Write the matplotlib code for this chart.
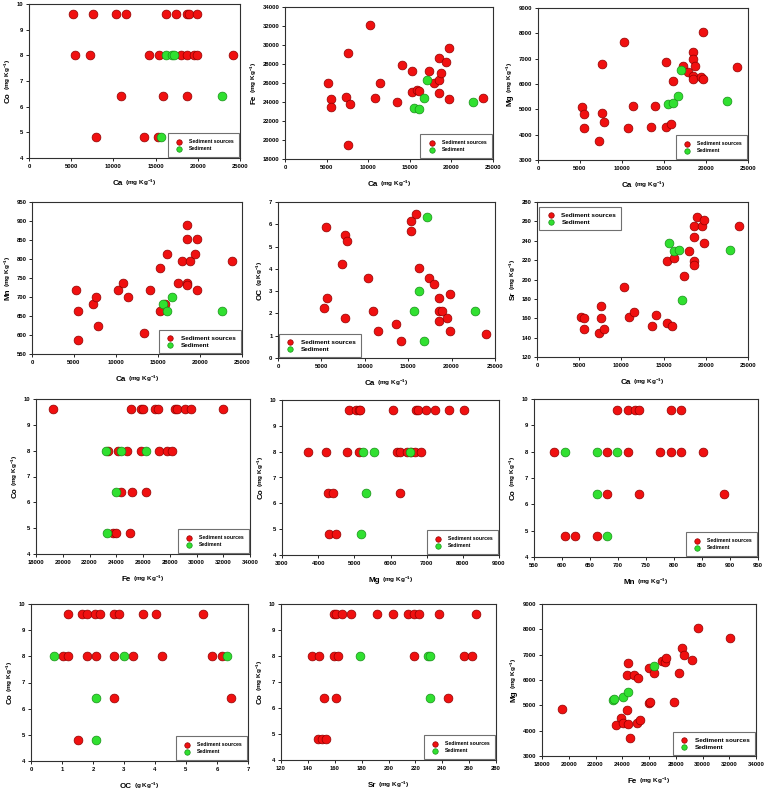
import matplotlib
matplotlib.use("Agg")
import matplotlib.pyplot as plt
from matplotlib.transforms import IdentityTransform

plt.rcParams["font.family"] = ["Liberation Sans", "DejaVu Sans"]
plt.rcParams["font.weight"] = "bold"
plt.rcParams["mathtext.fontset"] = "custom"
plt.rcParams["mathtext.rm"] = "Liberation Sans:bold"
plt.rcParams["mathtext.bf"] = "Liberation Sans:bold"
plt.rcParams["mathtext.default"] = "regular"

# ---------------- data ----------------
# Panel 1: Co vs Ca
coca_src_ca = [5180, 7610, 10280, 11460, 16290, 17470, 18720, 19000, 19860,
               5500, 7260, 14170, 15390, 18050, 18720, 19580, 19940, 24140,
               10870, 15930, 18680,
               7930, 13580, 15310]
coca_src_co = [9.6, 9.6, 9.6, 9.6, 9.6, 9.6, 9.6, 9.6, 9.6,
               8.0, 8.0, 8.0, 8.0, 8.0, 8.0, 8.0, 8.0, 8.0,
               6.4, 6.4, 6.4,
               4.8, 4.8, 4.8]
coca_sed_ca = [16290, 16920, 17150, 22920, 15660]
coca_sed_co = [8.0, 8.0, 8.0, 6.4, 4.8]

# Panel 2: Fe vs Ca
feca_src_ca = [5200, 5510, 5510, 7280, 7600, 7600, 7870, 10240, 10830, 11420, 13470,
               14060, 15240, 15240, 15830, 16140, 17280, 17870, 18500, 18500, 18500,
               18780, 19370, 19680, 19680, 23740]
feca_src_fe = [25950, 24320, 23450, 24490, 29210, 19430, 23830, 32080, 24420, 26030, 24010,
               27880, 27290, 25060, 25300, 25200, 27220, 25970, 28580, 26350, 24920,
               27010, 28260, 29670, 24320, 24430]
feca_sed_ca = [15550, 16140, 16730, 17010, 22600]
feca_sed_fe = [23340, 23270, 24430, 26350, 24040]

# Panel 3: Mg vs Ca
mgca_src_ca = [5190, 5500, 5500, 7230, 7580, 7580, 7860, 10210, 10760, 11350, 13400,
               13950, 15210, 15210, 15830, 16110, 17250, 17880, 18420, 18420, 18420,
               18420, 18740, 19370, 19600, 19680, 23730]
mgca_src_mg = [5080, 4820, 4250, 3740, 6770, 4860, 4500, 7650, 4280, 5150, 4320,
               5150, 6850, 4320, 4440, 6100, 6700, 6490, 7250, 6980, 6300,
               6190, 6730, 6270, 8050, 6190, 6670]
mgca_sed_ca = [15520, 16110, 16700, 16970, 22550]
mgca_sed_mg = [5220, 5250, 5540, 6560, 5330]

# Panel 4: Mn vs Ca
mnca_src_ca = [5220, 5500, 5500, 7260, 7570, 7850, 10210, 10790, 11380, 13390, 14050,
               15200, 15200, 15820, 16130, 17350, 17900, 18490, 18490, 18490, 18490,
               18830, 19350, 19670, 19670, 23860]
mnca_src_mn = [719, 662, 587, 681, 699, 625, 719, 738, 699, 606, 719,
               776, 662, 681, 814, 738, 795, 890, 852, 738, 731,
               795, 814, 852, 719, 795]
mnca_sed_ca = [15540, 16130, 16680, 22610]
mnca_sed_mn = [681, 662, 700, 662]

# Panel 5: OC vs Ca
occa_src_ca = [5330, 5560, 5640, 7360, 7670, 7670, 7980, 10350, 10930, 11500, 13570,
               14150, 15340, 15340, 15950, 16220, 17410, 18020, 18600, 18600, 18870,
               18600, 19520, 19820, 19820, 23930]
occa_src_oc = [2.24, 5.86, 2.69, 4.22, 5.53, 1.81, 5.24, 3.60, 2.11, 1.21, 1.51,
               0.76, 6.16, 5.70, 6.46, 4.05, 3.60, 3.31, 2.71, 2.11, 2.11,
               1.66, 1.81, 2.86, 1.21, 1.06]
occa_sed_ca = [15640, 16220, 16830, 17140, 22740]
occa_sed_oc = [2.11, 3.01, 0.76, 6.31, 2.11]

# Panel 6: Sr vs Ca
srca_src_ca = [5210, 5530, 5530, 7310, 7620, 7620, 7940, 10270, 10900, 11490, 13590,
               14140, 15360, 15360, 16000, 16270, 17420, 18010, 18600, 18600, 18600,
               18600, 18960, 19510, 19830, 19830, 23970]
srca_src_sr = [161.5, 160.4, 149.4, 144.5, 172.9, 160.4, 149.4, 192.2, 161.5, 166.0, 151.5,
               162.9, 219.2, 155.0, 152.5, 222.7, 203.3, 229.5, 255.5, 244.0, 219.2,
               215.0, 264.5, 255.5, 261.0, 237.5, 255.5]
srca_sed_ca = [15680, 16270, 16860, 17180, 22830]
srca_sed_sr = [237.2, 229.5, 230.6, 178.8, 230.6]

# Panel 7: Co vs Fe
cofe_src_fe = [19290, 25120, 25840, 25990, 26880, 27130, 28420, 28540, 29110, 29610, 31990,
               23380, 24150, 24820, 25840, 27230, 27800, 28170,
               24370, 25190, 26230,
               23760, 23980, 25000]
cofe_src_co = [9.6, 9.6, 9.6, 9.6, 9.6, 9.6, 9.6, 9.6, 9.6, 9.6, 9.6,
               8.0, 8.0, 8.0, 8.0, 8.0, 8.0, 8.0,
               6.4, 6.4, 6.4,
               4.8, 4.8, 4.8]
cofe_sed_fe = [23210, 24370, 26230, 23950, 23280]
cofe_sed_co = [8.0, 8.0, 8.0, 6.4, 4.8]

# Panel 8: Co vs Mg
comg_src_mg = [4840, 5050, 5130, 5160, 6070, 6700, 6760, 6970, 7220, 7620, 8030,
               3720, 4230, 4810, 5120, 6190, 6250, 6470, 6560, 6670, 6830,
               4260, 4420, 6250,
               4300, 4480]
comg_src_co = [9.6, 9.6, 9.6, 9.6, 9.6, 9.6, 9.6, 9.6, 9.6, 9.6, 9.6,
               8.0, 8.0, 8.0, 8.0, 8.0, 8.0, 8.0, 8.0, 8.0, 8.0,
               6.4, 6.4, 6.4,
               4.8, 4.8]
comg_sed_mg = [5240, 5540, 6530, 5310, 5190]
comg_sed_co = [8.0, 8.0, 8.0, 6.4, 4.8]

# Panel 9: Co vs Mn
comn_src_mn = [699, 718, 730, 737, 794, 813,
               586, 681, 718, 775, 794, 813, 851,
               681, 737, 889,
               605, 624, 662]
comn_src_co = [9.6, 9.6, 9.6, 9.6, 9.6, 9.6,
               8.0, 8.0, 8.0, 8.0, 8.0, 8.0, 8.0,
               6.4, 6.4, 6.4,
               4.8, 4.8, 4.8]
comn_sed_mn = [605, 662, 699, 662, 681]
comn_sed_co = [8.0, 8.0, 8.0, 6.4, 4.8]

# Panel 10: Co vs OC
cooc_src_oc = [1.20, 1.66, 1.82, 2.08, 2.24, 2.69, 2.85, 3.60, 4.04, 5.54,
               1.04, 1.20, 1.82, 2.10, 2.69, 3.29, 4.21, 5.85, 6.15,
               2.69, 6.44,
               1.50]
cooc_src_co = [9.6, 9.6, 9.6, 9.6, 9.6, 9.6, 9.6, 9.6, 9.6, 9.6,
               8.0, 8.0, 8.0, 8.0, 8.0, 8.0, 8.0, 8.0, 8.0,
               6.4, 6.4,
               4.8]
cooc_sed_oc = [0.75, 3.00, 6.31, 2.10, 2.10]
cooc_sed_co = [8.0, 8.0, 8.0, 6.4, 4.8]

# Panel 11: Co vs Sr
cosr_src_sr = [159.4, 160.9, 165.6, 172.3, 191.7, 203.1, 214.8, 218.7, 222.7, 237.3, 265.1,
               143.3, 148.3, 159.4, 162.4, 219.2, 255.9, 261.9,
               151.8, 160.7, 244.5,
               147.8, 150.3, 153.7]
cosr_src_co = [9.6, 9.6, 9.6, 9.6, 9.6, 9.6, 9.6, 9.6, 9.6, 9.6, 9.6,
               8.0, 8.0, 8.0, 8.0, 8.0, 8.0, 8.0,
               6.4, 6.4, 6.4,
               4.8, 4.8, 4.8]
cosr_sed_sr = [178.8, 229.4, 230.6, 230.9]
cosr_sed_co = [8.0, 8.0, 8.0, 6.4]

# Panel 12: Mg vs Fe
mgfe_src_fe = [19500, 23510, 23880, 24080, 24350, 24350, 24450, 24430, 24550, 24900,
               25200, 25130, 25350, 25980, 26080, 26000, 26350, 27000, 27200, 27300,
               27870, 28270, 28490, 28640, 29220, 29660, 32060]
mgfe_src_mg = [4860, 4230, 4500, 4300, 6200, 4810, 4270, 6680, 3730, 6200,
               6090, 4300, 4410, 5100, 5150, 6480, 6270, 6750, 6720, 6850,
               5150, 6270, 7260, 7000, 6790, 8050, 7670]
mgfe_sed_fe = [23300, 23360, 24080, 24430, 26350]
mgfe_sed_mg = [5220, 5250, 5320, 5540, 6560]

# tick values
ca_ticks = [0, 5000, 10000, 15000, 20000, 25000]
co_ticks = [4, 5, 6, 7, 8, 9, 10]
fe_ticks = [18000, 20000, 22000, 24000, 26000, 28000, 30000, 32000, 34000]
mg_ticks = [3000, 4000, 5000, 6000, 7000, 8000, 9000]
mn_ticks = [550, 600, 650, 700, 750, 800, 850, 900, 950]
oc_ticks = [0, 1, 2, 3, 4, 5, 6, 7]
sr_ticks = [120, 140, 160, 180, 200, 220, 240, 260, 280]

UNIT_MG = "(mg Kg$^{-1}$)"
UNIT_G = "(g Kg$^{-1}$)"

# ---------------- figure ----------------
W, H = 765, 791
fig = plt.figure(figsize=(W / 100, H / 100), dpi=100)

RED, RED_E = "#f01010", "#900000"
GRN, GRN_E = "#30e030", "#189018"

small_leg = dict(fontsize=3.7, borderpad=1.1, handlelength=2.4, handletextpad=0.6,
                 labelspacing=0.45)
large_leg = dict(fontsize=4.6, borderpad=0.8, handlelength=1.9, handletextpad=0.75,
                 labelspacing=0.25)

panels = [
    # rect (l, t, r, b) px, xs, ys, xsed, ysed, xticks, yticks, xlabel, ylabel, legend
    ((29, 4, 240, 158), coca_src_ca, coca_src_co, coca_sed_ca, coca_sed_co, ca_ticks, co_ticks,
     ("Ca", UNIT_MG), ("Co", UNIT_MG), ("lower right", (1, 0), small_leg)),
    ((285, 7, 493, 159), feca_src_ca, feca_src_fe, feca_sed_ca, feca_sed_fe, ca_ticks, fe_ticks,
     ("Ca", UNIT_MG), ("Fe", UNIT_MG), ("lower right", (1, 0), small_leg)),
    ((538, 8, 748, 160), mgca_src_ca, mgca_src_mg, mgca_sed_ca, mgca_sed_mg, ca_ticks, mg_ticks,
     ("Ca", UNIT_MG), ("Mg", UNIT_MG), ("lower right", (1, 0), small_leg)),
    ((32, 202, 242, 354), mnca_src_ca, mnca_src_mn, mnca_sed_ca, mnca_sed_mn, ca_ticks, mn_ticks,
     ("Ca", UNIT_MG), ("Mn", UNIT_MG), ("lower right", (1, 0), large_leg)),
    ((278, 202, 495, 358), occa_src_ca, occa_src_oc, occa_sed_ca, occa_sed_oc, ca_ticks, oc_ticks,
     ("Ca", UNIT_MG), ("OC", UNIT_G), ("lower left", (0, 0), large_leg)),
    ((537, 202, 748, 357), srca_src_ca, srca_src_sr, srca_sed_ca, srca_sed_sr, ca_ticks, sr_ticks,
     ("Ca", UNIT_MG), ("Sr", UNIT_MG), ("upper left", (0.005, 0.975), large_leg)),
    ((36, 399, 250, 554), cofe_src_fe, cofe_src_co, cofe_sed_fe, cofe_sed_co, fe_ticks, co_ticks,
     ("Fe", UNIT_MG), ("Co", UNIT_MG), ("lower right", (1, 0), small_leg)),
    ((282, 400, 499, 555), comg_src_mg, comg_src_co, comg_sed_mg, comg_sed_co, mg_ticks, co_ticks,
     ("Mg", UNIT_MG), ("Co", UNIT_MG), ("lower right", (1, 0), small_leg)),
    ((534, 399, 758, 557), comn_src_mn, comn_src_co, comn_sed_mn, comn_sed_co, mn_ticks, co_ticks,
     ("Mn", UNIT_MG), ("Co", UNIT_MG), ("lower right", (1, 0), small_leg)),
    ((31, 604, 248, 761), cooc_src_oc, cooc_src_co, cooc_sed_oc, cooc_sed_co, oc_ticks, co_ticks,
     ("OC", UNIT_G), ("Co", UNIT_MG), ("lower right", (1, 0), small_leg)),
    ((281, 604, 496, 760), cosr_src_sr, cosr_src_co, cosr_sed_sr, cosr_sed_co, sr_ticks, co_ticks,
     ("Sr", UNIT_MG), ("Co", UNIT_MG), ("lower right", (1, 0), small_leg)),
    ((542, 604, 756, 756), mgfe_src_fe, mgfe_src_mg, mgfe_sed_fe, mgfe_sed_mg, fe_ticks, mg_ticks,
     ("Fe", UNIT_MG), ("Mg", UNIT_MG), ("lower right", (1, 0), large_leg)),
]

axes_info = []
for (l, t, r, b), xs, ys, xd, yd, xt, yt, xl, yl, (loc, anchor, lkw) in panels:
    ax = fig.add_axes([l / W, 1 - b / H, (r - l) / W, (b - t) / H])
    h1 = ax.scatter(xs, ys, s=40, c=RED, edgecolors=RED_E, linewidths=0.5, zorder=3,
                    label="Sediment sources")
    h2 = ax.scatter(xd, yd, s=40, c=GRN, edgecolors=GRN_E, linewidths=0.5, zorder=4,
                    label="Sediment")
    ax.set_xlim(xt[0], xt[-1])
    ax.set_ylim(yt[0], yt[-1])
    ax.set_xticks(xt)
    ax.set_yticks(yt)
    ax.set_xticklabels([str(v) for v in xt])
    ax.set_yticklabels([str(v) for v in yt])
    ax.tick_params(direction="out", length=2, width=0.6, pad=2, labelsize=4.2,
                   top=False, right=False)
    for sp in ax.spines.values():
        sp.set_linewidth(0.8)
        sp.set_color("#303030")
    leg = ax.legend(handles=[h1, h2], loc=loc, bbox_to_anchor=anchor, borderaxespad=0.2,
                    frameon=True, fancybox=False, framealpha=1, edgecolor="#707070",
                    markerscale=0.62, prop=dict(size=lkw["fontsize"], weight="bold"),
                    borderpad=lkw["borderpad"], handlelength=lkw["handlelength"],
                    handletextpad=lkw["handletextpad"], labelspacing=lkw["labelspacing"])
    leg.get_frame().set_linewidth(0.8)
    axes_info.append((ax, xl, yl))

fig.canvas.draw()
rend = fig.canvas.get_renderer()
ident = IdentityTransform()

BIG, SMALL = 5.8, 4.6
for ax, (xbig, xsmall), (ybig, ysmall) in axes_info:
    pos = ax.get_window_extent(rend)
    # x label
    tb = [tl.get_window_extent(rend) for tl in ax.get_xticklabels() if tl.get_text()]
    ymin = min(bb.y0 for bb in tb)
    t1 = fig.text(0, 0, xbig, transform=ident, fontsize=BIG, fontweight="bold",
                  ha="left", va="baseline")
    t2 = fig.text(0, 0, xsmall, transform=ident, fontsize=SMALL, fontweight="bold",
                  ha="left", va="baseline")
    w1 = t1.get_window_extent(rend).width
    w2 = t2.get_window_extent(rend).width
    gap = 2.0
    cx = (pos.x0 + pos.x1) / 2
    x0 = cx - (w1 + gap + w2) / 2
    yb = ymin - 16
    t1.set_position((x0, yb))
    t2.set_position((x0 + w1 + gap, yb))
    # y label
    lb = [tl.get_window_extent(rend) for tl in ax.get_yticklabels() if tl.get_text()]
    xmin = min(bb.x0 for bb in lb)
    s1 = fig.text(0, 0, ybig, transform=ident, fontsize=BIG, fontweight="bold",
                  rotation=90, rotation_mode="anchor", ha="left", va="baseline")
    s2 = fig.text(0, 0, ysmall, transform=ident, fontsize=SMALL, fontweight="bold",
                  rotation=90, rotation_mode="anchor", ha="left", va="baseline")
    h1 = s1.get_window_extent(rend).height
    h2 = s2.get_window_extent(rend).height
    cy = (pos.y0 + pos.y1) / 2
    y0 = cy - (h1 + gap + h2) / 2
    xb = xmin - 7
    s1.set_position((xb, y0))
    s2.set_position((xb, y0 + h1 + gap))

fig.savefig("out.png", dpi=100)
